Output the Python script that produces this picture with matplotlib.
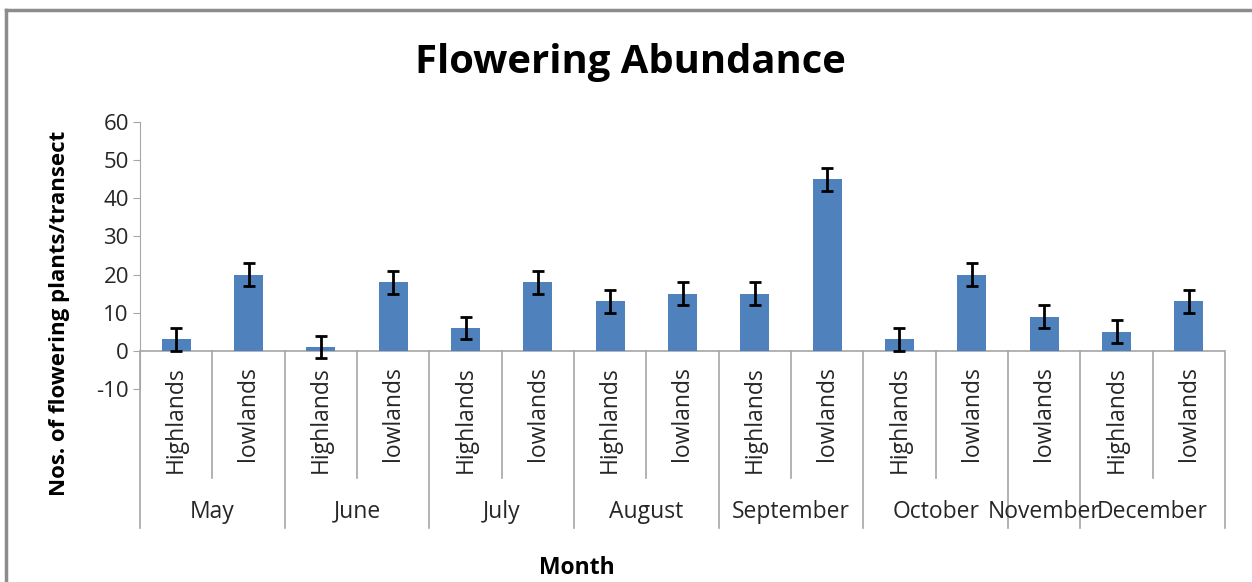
import matplotlib
matplotlib.use("Agg")
import matplotlib.pyplot as plt
from matplotlib.lines import Line2D
import numpy as np

# Data
sites = ["Highlands", "lowlands", "Highlands", "lowlands", "Highlands", "lowlands",
         "Highlands", "lowlands", "Highlands", "lowlands", "Highlands", "lowlands",
         "lowlands", "Highlands", "lowlands"]
values = [3, 20, 1, 18, 6, 18, 13, 15, 15, 45, 3, 20, 9, 5, 13]
errors = [3, 3, 3, 3, 3, 3, 3, 3, 3, 3, 3, 3, 3, 3, 3]
months = ["May", "June", "July", "August", "September", "October", "November", "December"]
month_sizes = [2, 2, 2, 2, 2, 2, 1, 2]

plt.rcParams['font.family'] = ['Open Sans', 'DejaVu Sans']
plt.rcParams['axes.unicode_minus'] = False

BAR_COLOR = "#4F81BD"
GRID_GRAY = "#A6A6A6"
TEXT = "#262626"

fig = plt.figure(figsize=(12.52, 5.82), dpi=100)
ax = fig.add_axes([140 / 1252, 1 - 389 / 582, 1085 / 1252, 267 / 582])

x = np.arange(len(values))
ax.bar(x, values, width=0.4, color=BAR_COLOR, zorder=2)
ax.errorbar(x, values, yerr=errors, fmt='none', ecolor='black',
            elinewidth=2, capsize=4.5, capthick=2, zorder=3)

ax.set_xlim(-0.5, len(values) - 0.5)
ax.set_ylim(-10, 60)
ax.set_yticks(range(-10, 61, 10))
ax.set_xticks([])
for s in ['top', 'right', 'bottom']:
    ax.spines[s].set_visible(False)
ax.spines['left'].set_color(GRID_GRAY)
ax.tick_params(axis='y', direction='out', length=5, color=GRID_GRAY,
               labelsize=16, labelcolor=TEXT, pad=3)
ax.axhline(0, color=GRID_GRAY, lw=1.2, zorder=1)

# multi-level category labels below the zero line
y_short = -(478 - 351) / 3.814
y_long = -(528 - 351) / 3.814
y_site = -(366 - 351) / 3.814
y_month = -(512 - 351) / 3.814

for i, name in enumerate(sites):
    ax.text(i, y_site, name, rotation=90, ha='center', va='top',
            fontsize=16.5, color=TEXT, clip_on=False)

bounds = np.concatenate([[0], np.cumsum(month_sizes)])
group_edges = set(bounds.tolist())
for b in range(len(values) + 1):
    xb = b - 0.5
    ylow = y_long if b in group_edges else y_short
    ax.plot([xb, xb], [0, ylow], color=GRID_GRAY, lw=1.2, clip_on=False)
for m, start, size in zip(months, bounds[:-1], month_sizes):
    ax.text(start - 0.5 + size / 2, y_month, m, ha='center', va='center',
            fontsize=16.5, color=TEXT, clip_on=False)

fig.text(630 / 1252, 1 - 62 / 582, "Flowering Abundance", ha='center', va='center',
         fontsize=28.8, fontweight='bold', color='black')
fig.text(60 / 1252, 1 - 313 / 582, "Nos. of flowering plants/transect", rotation=90,
         ha='center', va='center', fontsize=16, fontweight='bold', color='black')
fig.text(577 / 1252, 1 - 568 / 582, "Month", ha='center', va='center',
         fontsize=16.5, fontweight='bold', color='black')

# chart frame
fig.add_artist(Line2D([6 / 1252, 1], [1 - 10 / 582, 1 - 10 / 582],
                      color='#8C8C8C', lw=2.5, transform=fig.transFigure))
fig.add_artist(Line2D([6 / 1252, 6 / 1252], [0, 1 - 10 / 582],
                      color='#8C8C8C', lw=2.5, transform=fig.transFigure))

fig.savefig("out.png", dpi=100)
